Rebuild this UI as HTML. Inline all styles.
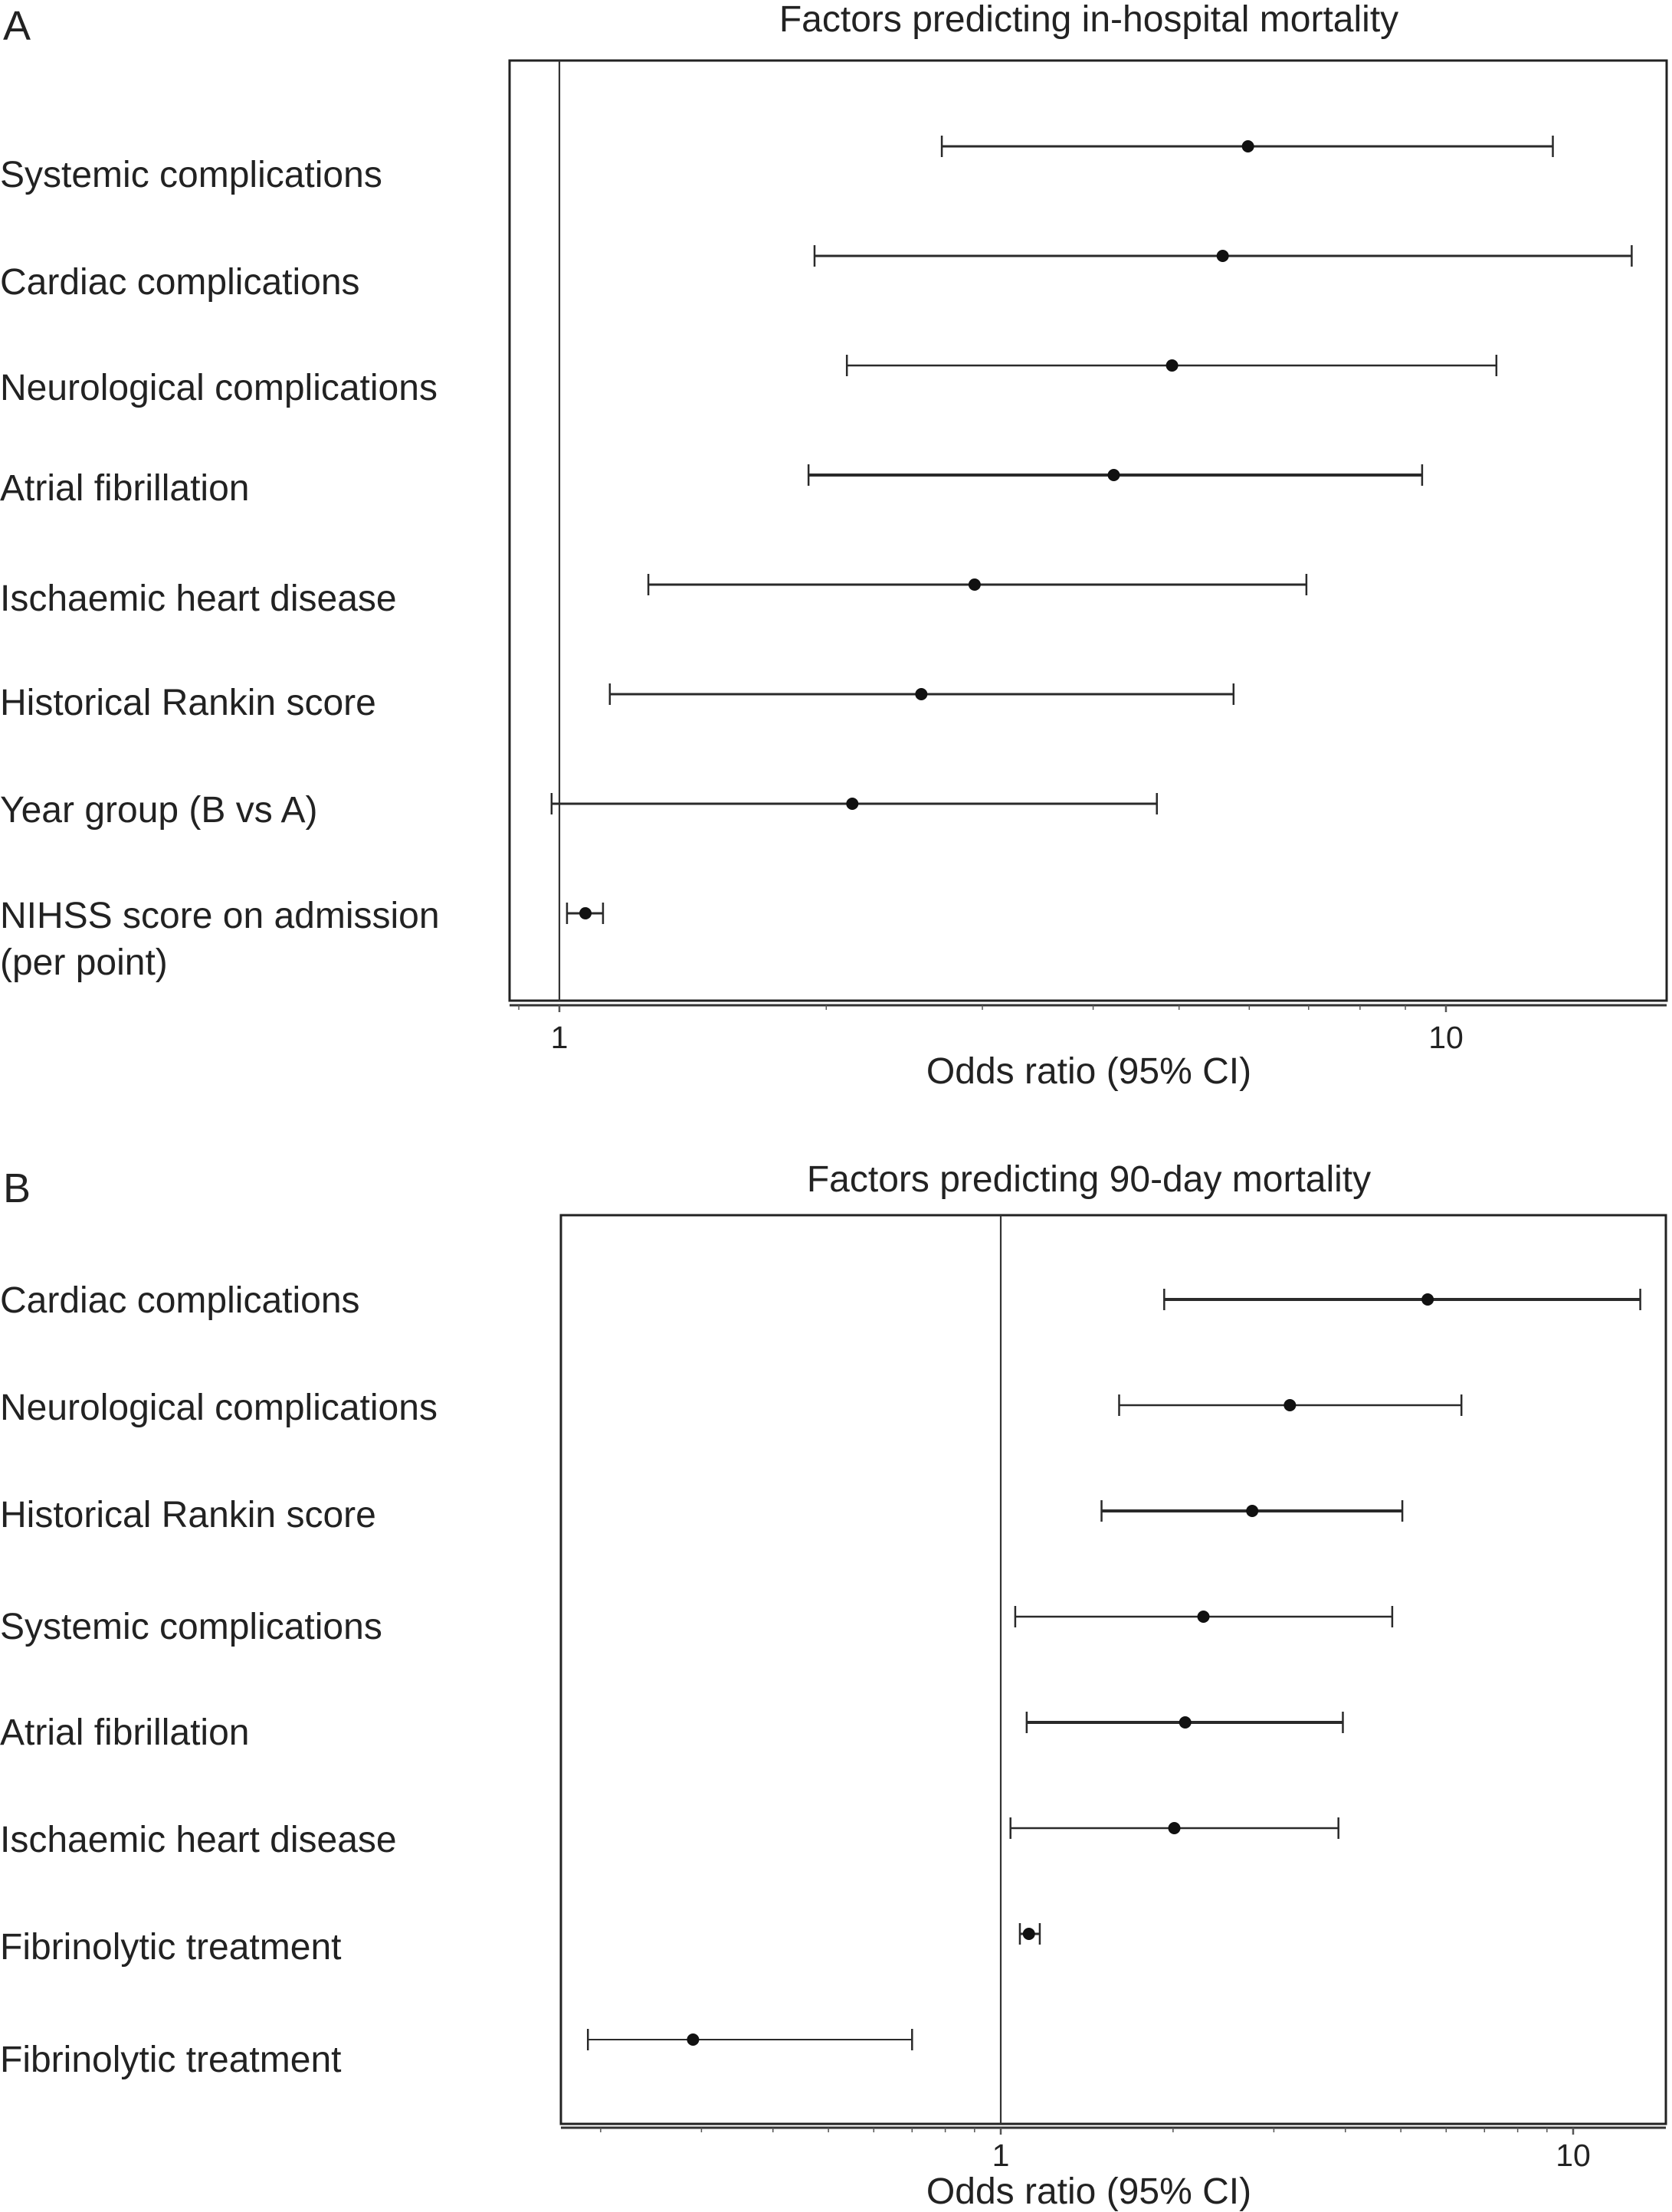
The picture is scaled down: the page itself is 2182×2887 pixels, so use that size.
<!DOCTYPE html>
<html><head><meta charset="utf-8">
<style>
html,body{margin:0;padding:0;background:#fff;}
svg{display:block;font-family:"Liberation Sans",Arial,sans-serif;}
</style></head>
<body>
<svg id="chart" width="2182" height="2887" viewBox="0 0 2182 2887" xmlns="http://www.w3.org/2000/svg">
<text x="4" y="52" font-size="54" fill="#222">A</text>
<text x="1421" y="41" font-size="48" text-anchor="middle" fill="#222">Factors predicting in-hospital mortality</text>
<text x="4" y="1569" font-size="54" fill="#222">B</text>
<text x="1421" y="1555" font-size="48" text-anchor="middle" fill="#222">Factors predicting 90-day mortality</text>
<g id="gA"></g>
<g id="gB"></g>
</svg>
<script>
const labelsA = ["Systemic complications","Cardiac complications","Neurological complications","Atrial fibrillation","Ischaemic heart disease","Historical Rankin score","Year group (B vs A)","NIHSS score on admission|(per point)"];
const orA = [5.98,5.60,4.91,4.22,2.94,2.56,2.14,1.07];
const loA = [2.70,1.94,2.11,1.91,1.26,1.14,0.98,1.02];
const hiA = [13.2,16.2,11.4,9.40,6.96,5.76,4.72,1.12];
const labelsB = ["Cardiac complications","Neurological complications","Historical Rankin score","Systemic complications","Atrial fibrillation","Ischaemic heart disease","Fibrinolytic treatment","Fibrinolytic treatment"];
const orB = [5.57,3.20,2.75,2.26,2.10,2.01,1.12,0.29];
const loB = [1.93,1.61,1.50,1.06,1.11,1.04,1.08,0.19];
const hiB = [13.1,6.38,5.03,4.83,3.96,3.89,1.17,0.70];
const tickLabels = ["1","10"];
const tickValues = [1,10];

const NS="http://www.w3.org/2000/svg";
function mk(parent,tag,attrs){const e=document.createElementNS(NS,tag);for(const k in attrs)e.setAttribute(k,attrs[k]);parent.appendChild(e);return e;}

function panel(g,cfg,labels,ors,los,his,key){
  const sx=v=>cfg.x1+cfg.dec*Math.log10(v);
  const frame=mk(g,'rect',{x:cfg.fl,y:cfg.ft,width:cfg.fr-cfg.fl,height:cfg.fb-cfg.ft,fill:'none',stroke:'#222','stroke-width':3});
  
  
  const ref=mk(g,'line',{x1:sx(1),x2:sx(1),y1:cfg.ft,y2:cfg.fb,stroke:'#333','stroke-width':2.2});
  
  
  const ax=mk(g,'line',{x1:cfg.fl,x2:cfg.fr,y1:cfg.ay,y2:cfg.ay,stroke:'#333','stroke-width':3});
  
  
  for(let d=-1;d<=1;d++){for(let m=1;m<=9;m++){const v=m*Math.pow(10,d);const x=sx(v);if(x<cfg.fl||x>cfg.fr)continue;
    const t=mk(g,'line',{x1:x,x2:x,y1:cfg.ay,y2:cfg.ay+(m===1?9:6),stroke:'#555','stroke-width':m===1?2.5:1.5});
    
    }}
  tickValues.forEach((v,i)=>{const t=mk(g,'text',{x:sx(v),y:cfg.ty,'font-size':41,'text-anchor':'middle',fill:'#222'});t.textContent=tickLabels[i];
    
    });
  const at=mk(g,'text',{x:1421,y:cfg.tt,'font-size':48,'text-anchor':'middle',fill:'#222'});at.textContent='Odds ratio (95% CI)';
  
  
  labels.forEach((lab,i)=>{const y=cfg.r0+cfg.rs*i;
    const parts=lab.split('|');
    parts.forEach((p,j)=>{const t=mk(g,'text',{x:0,y:cfg.labY[i]+16+j*61,'font-size':48,fill:'#222'});t.textContent=p;
      
      });
    const sw=cfg.sw[i];
    const l=mk(g,'line',{x1:sx(los[i]),x2:sx(his[i]),y1:y,y2:y,stroke:'#2a2a2a','stroke-width':sw});
    
    
    [los[i],his[i]].forEach(v=>{const c=mk(g,'line',{x1:sx(v),x2:sx(v),y1:y-14,y2:y+14,stroke:'#2a2a2a','stroke-width':2.5});
      
      });
    const d=mk(g,'circle',{cx:sx(ors[i]),cy:y,r:8,fill:'#111'});
    
    
  });
}
panel(document.getElementById('gA'),{fl:665,fr:2175,ft:79,fb:1306,ay:1312,x1:730,dec:1157,ty:1368,tt:1414,r0:191,rs:143.0,
  labY:[228,368,506,637,781,917,1057,1195],sw:[3,3,2.5,4,3,3,3,3]},labelsA,orA,loA,hiA,'panel-a');
panel(document.getElementById('gB'),{fl:732,fr:2174,ft:1586,fb:2772,ay:2777,x1:1306,dec:747,ty:2827,tt:2876,r0:1696,rs:138.0,
  labY:[1697,1837,1977,2123,2261,2401,2541,2688],sw:[4,2.5,4,2.5,4,2.5,3,2]},labelsB,orB,loB,hiB,'panel-b');
</script>
</body></html>
